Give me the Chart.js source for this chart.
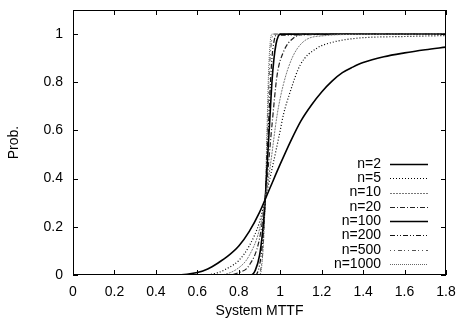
<!DOCTYPE html>
<html>
<head>
<meta charset="utf-8">
<script src="https://cdn.jsdelivr.net/npm/chart.js@4"></script>
<style>
  html, body { margin: 0; padding: 0; background: #fff; }
  #wrap { width: 458px; height: 320px; }
</style>
</head>
<body>
<div id="wrap"><canvas id="myChart" width="458" height="320"></canvas></div>
<script>
// tick labels
var xTicks = [0, 0.2, 0.4, 0.6, 0.8, 1, 1.2, 1.4, 1.6, 1.8];
var yTicks = [0, 0.2, 0.4, 0.6, 0.8, 1];

var labels = ['n=2', 'n=5', 'n=10', 'n=20', 'n=100', 'n=200', 'n=500', 'n=1000'];

// [System MTTF, Prob.]
var n2 = [[0, 0], [0.5, 0], [0.55, 0.003], [0.6, 0.01], [0.65, 0.025], [0.7, 0.05], [0.75, 0.08],
  [0.8, 0.12], [0.85, 0.18], [0.9, 0.26], [0.95, 0.36], [1.0, 0.46], [1.05, 0.555], [1.1, 0.64],
  [1.15, 0.705], [1.2, 0.76], [1.25, 0.805], [1.3, 0.84], [1.35, 0.863], [1.4, 0.882], [1.5, 0.906],
  [1.6, 0.922], [1.7, 0.935], [1.8, 0.946]];
var n5 = [[0, 0], [0.62, 0], [0.7, 0.01], [0.75, 0.03], [0.8, 0.06], [0.85, 0.12], [0.9, 0.22],
  [0.928, 0.32], [0.95, 0.4], [1.0, 0.6], [1.015, 0.664], [1.048, 0.76], [1.096, 0.871],
  [1.178, 0.942], [1.257, 0.967], [1.3, 0.975], [1.4, 0.985], [1.6, 0.99], [1.8, 0.994]];
var n10 = [[0, 0], [0.7, 0], [0.8, 0.03], [0.85, 0.08], [0.9, 0.19], [0.928, 0.32], [0.95, 0.44],
  [0.985, 0.664], [1.015, 0.79], [1.057, 0.9], [1.11, 0.967], [1.21, 0.993], [1.4, 0.999], [1.8, 1]];
var n20 = [[0, 0], [0.75, 0], [0.8, 0.01], [0.85, 0.04], [0.9, 0.15], [0.928, 0.32], [0.96, 0.62],
  [0.985, 0.83], [1.015, 0.925], [1.063, 0.983], [1.13, 0.999], [1.8, 1]];
var n100 = [[0, 0], [0.86, 0], [0.88, 0.02], [0.9, 0.08], [0.915, 0.18], [0.928, 0.32], [0.94, 0.5],
  [0.95, 0.65], [0.96, 0.8], [0.97, 0.9], [0.98, 0.96], [0.99, 0.99], [1.0, 1], [1.8, 1]];
var n200 = [[0, 0], [0.88, 0], [0.9, 0.04], [0.915, 0.14], [0.928, 0.32], [0.94, 0.55],
  [0.95, 0.75], [0.96, 0.9], [0.97, 0.97], [0.98, 0.995], [1.8, 1]];
var n500 = [[0, 0], [0.895, 0], [0.905, 0.02], [0.918, 0.12], [0.928, 0.32], [0.938, 0.6],
  [0.948, 0.85], [0.958, 0.97], [0.968, 1], [1.8, 1]];
var n1000 = [[0, 0], [0.9, 0], [0.91, 0.03], [0.92, 0.15], [0.928, 0.32], [0.936, 0.6],
  [0.944, 0.85], [0.952, 0.97], [0.96, 1], [1.8, 1]];

var curves = [n2, n5, n10, n20, n100, n200, n500, n1000];
var styles = [
  { color: '#000', width: 1.6, dash: [] },
  { color: '#000', width: 1.2, dash: [1, 2] },
  { color: '#777', width: 1, dash: [2, 1] },
  { color: '#222', width: 1.2, dash: [5, 2, 1, 2] },
  { color: '#000', width: 1.6, dash: [] },
  { color: '#111', width: 1.2, dash: [5, 2, 1, 2, 1, 2] },
  { color: '#555', width: 1, dash: [1, 3, 1, 3, 4, 2] },
  { color: '#666', width: 1, dash: [1, 1] }
];

var datasets = curves.map(function (c, i) {
  return {
    label: labels[i],
    data: c.map(function (p) { return { x: p[0], y: p[1] }; }),
    borderColor: styles[i].color,
    borderWidth: styles[i].width,
    borderDash: styles[i].dash,
    pointRadius: 0,
    fill: false,
    cubicInterpolationMode: 'monotone'
  };
});

var FONT = '"Liberation Sans", Arial, sans-serif';

// gnuplot style frame, inward ticks and legend
var frame = {
  id: 'frame',
  afterDatasetsDraw: function (chart) {
    var c = chart.ctx, a = chart.chartArea;
    var xs = chart.scales.x, ys = chart.scales.y;
    c.save();
    c.strokeStyle = '#000';
    c.lineWidth = 1;
    c.setLineDash([]);
    c.strokeRect(a.left + 0.5, a.top + 0.5, a.right - a.left - 1, a.bottom - a.top - 1);
    c.beginPath();
    xTicks.forEach(function (v) {
      var px = Math.round(xs.getPixelForValue(v)) + 0.5;
      c.moveTo(px, a.bottom); c.lineTo(px, a.bottom - 5);
      c.moveTo(px, a.top); c.lineTo(px, a.top + 5);
    });
    yTicks.forEach(function (v) {
      var py = Math.round(ys.getPixelForValue(v)) + 0.5;
      c.moveTo(a.left, py); c.lineTo(a.left + 5, py);
      c.moveTo(a.right, py); c.lineTo(a.right - 5, py);
    });
    c.stroke();

    c.font = '14px ' + FONT;
    c.fillStyle = '#000';
    c.textAlign = 'right';
    c.textBaseline = 'middle';
    var n = labels.length;
    labels.forEach(function (lab, i) {
      var y = a.bottom - 11 - (n - 1 - i) * 14.3;
      c.fillText(lab, a.right - 65, y);
      c.beginPath();
      c.strokeStyle = styles[i].color;
      c.lineWidth = styles[i].width;
      c.setLineDash(styles[i].dash);
      c.moveTo(a.right - 56, Math.round(y) + 0.5);
      c.lineTo(a.right - 18, Math.round(y) + 0.5);
      c.stroke();
    });
    c.restore();
  }
};

var ctx = document.getElementById('myChart');
Chart.defaults.font.family = FONT;
Chart.defaults.font.size = 14;
Chart.defaults.color = '#000';

var myChart = new Chart(ctx, {
  type: 'line',
  data: { datasets: datasets },
  plugins: [frame],
  options: {
    responsive: false,
    animation: false,
    layout: { padding: { left: 0, right: 12, top: 10, bottom: 0 } },
    plugins: { legend: { display: false }, tooltip: { enabled: false } },
    scales: {
      x: {
        type: 'linear',
        min: 0,
        max: 1.8,
        grid: { display: false, drawTicks: false },
        border: { display: false },
        ticks: { padding: 9, maxRotation: 0, autoSkip: false, callback: function (v) { return String(v); } },
        afterBuildTicks: function (s) { s.ticks = xTicks.map(function (v) { return { value: v }; }); },
        afterFit: function (s) { s.height = 45; s.paddingLeft = 0; s.paddingRight = 0; },
        title: { display: true, text: 'System MTTF', padding: { top: 1, bottom: 0 } }
      },
      y: {
        type: 'linear',
        min: 0,
        max: 1.1,
        grid: { display: false, drawTicks: false },
        border: { display: false },
        ticks: { padding: 10, callback: function (v) { return String(v); } },
        afterBuildTicks: function (s) { s.ticks = yTicks.map(function (v) { return { value: v }; }); },
        afterFit: function (s) { s.width = 73; s.paddingTop = 0; s.paddingBottom = 0; },
        title: { display: true, text: 'Prob.', padding: { top: 6, bottom: 4 } }
      }
    }
  }
});
</script>
</body>
</html>
